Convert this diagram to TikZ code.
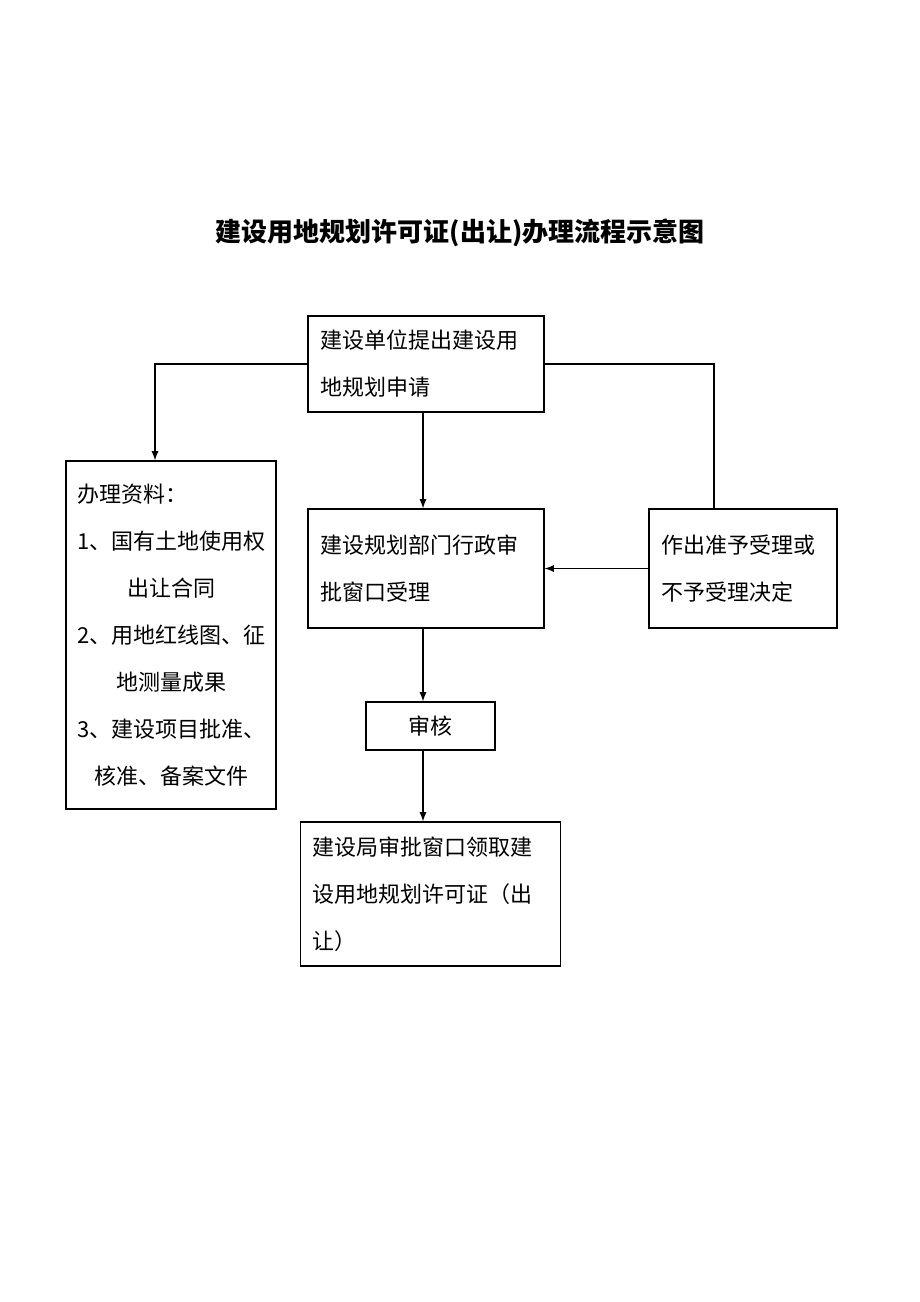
\documentclass[tikz,border=0pt]{standalone}
\usepackage{fontspec}
\setmainfont{Noto Sans CJK SC}
\usetikzlibrary{positioning}
\begin{document}
\begin{tikzpicture}[
	x=0.5pt,y=-0.5pt,
	box/.style={
		rectangle,
		draw=black,
		line width=0.6pt,
		align=left,
		inner xsep=6pt,
		font=\fontsize{11}{23.5}\selectfont
	},
	arrow/.style={
		-latex,
		line width=0.6pt
	}
]
\useasboundingbox (0,0) rectangle (920,1302);
% Title
\node[font=\bfseries\fontsize{13}{15}\selectfont] (title) at (460,233) {建设用地规划许可证(出让)办理流程示意图};
% Nodes
\node[box,minimum width=118pt,minimum height=48pt,text width=106pt] (apply) at (426,364) {建设单位提出建设用\\地规划申请};
\node[box,minimum width=105pt,minimum height=174pt,text width=94pt,inner xsep=5pt] (docs) at (171,635) {办理资料：\\1、国有土地使用权\\\makebox[94pt]{出让合同}\\2、用地红线图、征\\\makebox[94pt]{地测量成果}\\3、建设项目批准、\\\makebox[94pt]{核准、备案文件}};
\node[box,minimum width=118pt,minimum height=59.5pt,text width=106pt] (window) at (426,568.5) {建设规划部门行政审\\批窗口受理};
\node[box,minimum width=93pt,minimum height=59.5pt,text width=82pt] (decide) at (743,568.5) {作出准予受理或\\不予受理决定};
\node[box,minimum width=64.5pt,minimum height=24pt,align=center,inner ysep=2pt] (review) at (430.5,726) {审核};
\node[box,minimum width=129.5pt,minimum height=72pt,text width=118pt] (permit) at (430.5,894) {建设局审批窗口领取建\\设用地规划许可证（出\\让）};
% Connectors
\coordinate (tl) at (155,364);
\coordinate (tr) at (714,364);
\draw[arrow] (apply.west |- tl) -- (tl) -- (docs.north -| tl);
\draw[line width=0.6pt] (apply.east |- tr) -- (tr) -- (decide.north -| tr);
\draw[arrow] (apply.south -| 423,0) -- (window.north -| 423,0);
\draw[arrow] (decide.west) -- (window.east |- decide.west);
\draw[arrow] (window.south -| 423,0) -- (review.north -| 423,0);
\draw[arrow] (review.south -| 423,0) -- (permit.north -| 423,0);
\end{tikzpicture}
\end{document}
